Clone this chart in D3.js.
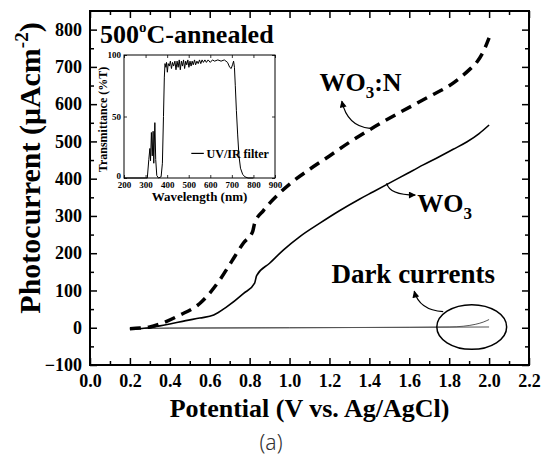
<!DOCTYPE html>
<html>
<head>
<meta charset="utf-8">
<script src="https://cdn.jsdelivr.net/npm/d3@7"></script>
<style>
body { margin: 0; background: #fff; }
svg text { font-family: "Liberation Serif", "Times New Roman", serif; font-weight: bold; fill: #000; }
svg text.caption { font-family: "Noto Sans", sans-serif; font-weight: 300; fill: #333; }
</style>
</head>
<body>
<div id="chart"></div>
<script>
// photocurrent vs potential, [V, uA/cm2]
const wo3N = [[0.20,-3],[0.25,-1],[0.30,2],[0.35,10],[0.45,34],[0.55,65],[0.65,128],[0.71,178],[0.77,228],[0.815,258],[0.825,280],[0.87,315],[0.94,356],[1.02,394],[1.10,425],[1.20,461],[1.29,494],[1.40,531],[1.47,553],[1.55,577],[1.64,603],[1.72,626],[1.79,646],[1.85,669],[1.90,692],[1.94,714],[1.97,740],[2.00,778]];
const wo3 = [[0.20,-3],[0.30,0],[0.35,5],[0.40,10],[0.48,19],[0.55,26],[0.62,34],[0.68,54],[0.77,92],[0.825,120],[0.835,140],[0.90,173],[0.97,209],[1.05,244],[1.15,280],[1.25,314],[1.35,345],[1.42,365],[1.50,388],[1.59,414],[1.67,437],[1.75,459],[1.82,479],[1.89,499],[1.95,521],[2.00,544]];
const darkWo3N = [[0.20,-3],[0.40,-1],[1.00,0],[1.60,1],[1.80,2],[1.87,4],[1.93,9],[1.97,15],[2.00,22]];
const darkWo3 = [[0.20,-3],[0.40,-1],[1.00,0],[1.50,1],[2.00,2]];

// inset: UV/IR filter transmittance [nm, %T]
const filterT = [[200,0],[300,0],[308,0],[315,15],[320,24],[323,14],[327,37],[331,18],[335,38],[338,12],[343,45],[347,15],[352,2],[360,0],[372,1],[378,12],[383,50],[387,82],[390,93],[394,90],[397,94],[401,86],[405,93],[410,91],[415,95],[420,89],[425,94],[430,91],[436,95],[441,88],[446,95],[451,90],[456,96],[461,88],[466,95],[471,91],[476,96],[481,89],[486,95],[491,92],[496,96],[501,90],[506,95],[511,91],[516,95],[521,92],[527,96],[532,92],[538,95],[544,93],[550,96],[556,93],[562,96],[568,94],[575,96],[582,94],[590,96],[600,94],[610,96],[620,95],[635,96],[650,95],[665,96],[680,94],[690,90],[697,89],[703,92],[708,95],[712,90],[716,75],[721,55],[727,35],[733,18],[740,8],[750,3],[760,1],[775,0],[800,0]];

const xTicks = [0.0,0.2,0.4,0.6,0.8,1.0,1.2,1.4,1.6,1.8,2.0,2.2];
const xMinor = d3.range(0.1, 2.2, 0.2);
const yTicks = [-100,0,100,200,300,400,500,600,700,800];
const yMinor = d3.range(-50, 850, 100);
const insetXTicks = [200,300,400,500,600,700,800,900];
const insetYTicks = [0,50,100];

// annotation anchors in data units
const ann = {
  wo3N: { from: [1.403, 535], ctrl: [1.29, 540], to: [1.262, 608] },
  wo3: { from: [1.487, 388], ctrl: [1.50, 356], to: [1.63, 356] },
  dark: { from: [1.77, 43], ctrl: [1.65, 47], to: [1.625, 98] },
  ellipse: { c: [1.913, 2], r: [0.175, 60] }
};

const W = 547, H = 460;
const margin = { top: 11, right: 18, bottom: 95, left: 90 };
const width = W - margin.left - margin.right;
const height = H - margin.top - margin.bottom;

const svg = d3.select('#chart').append('svg')
  .attr('width', W).attr('height', H);

svg.append('defs').append('marker')
  .attr('id', 'arrow')
  .attr('viewBox', '0 0 10 10')
  .attr('refX', 9).attr('refY', 5)
  .attr('markerWidth', 9).attr('markerHeight', 7)
  .attr('markerUnits', 'userSpaceOnUse')
  .attr('orient', 'auto')
  .append('path').attr('d', 'M0,0 L10,5 L0,10 Z').attr('fill', '#000');

const g = svg.append('g').attr('transform', `translate(${margin.left},${margin.top})`);

const x = d3.scaleLinear().domain([0, 2.2]).range([0, width]);
const y = d3.scaleLinear().domain([-100, 850]).range([height, 0]);

function axisStyle(sel) {
  sel.select('.domain').remove();
  sel.selectAll('line').attr('stroke', '#000').attr('stroke-width', 1.5);
  sel.selectAll('text').style('font-size', '18px');
}

// major ticks + labels
g.append('g').attr('transform', `translate(0,${height})`)
  .call(d3.axisBottom(x).tickValues(xTicks).tickSize(-7).tickPadding(9).tickFormat(d3.format('.1f')))
  .call(axisStyle);
g.append('g')
  .call(d3.axisLeft(y).tickValues(yTicks).tickSize(-7).tickPadding(8))
  .call(axisStyle);
g.append('g')
  .call(d3.axisTop(x).tickValues(xTicks).tickSize(-7).tickFormat(''))
  .call(axisStyle);
g.append('g').attr('transform', `translate(${width},0)`)
  .call(d3.axisRight(y).tickValues(yTicks).tickSize(-7).tickFormat(''))
  .call(axisStyle);
// minor ticks
g.append('g').attr('transform', `translate(0,${height})`)
  .call(d3.axisBottom(x).tickValues(xMinor).tickSize(-4).tickFormat('')).call(axisStyle);
g.append('g').call(d3.axisTop(x).tickValues(xMinor).tickSize(-4).tickFormat('')).call(axisStyle);
g.append('g').call(d3.axisLeft(y).tickValues(yMinor).tickSize(-4).tickFormat('')).call(axisStyle);
g.append('g').attr('transform', `translate(${width},0)`)
  .call(d3.axisRight(y).tickValues(yMinor).tickSize(-4).tickFormat('')).call(axisStyle);

g.append('rect').attr('width', width).attr('height', height)
  .attr('fill', 'none').attr('stroke', '#000').attr('stroke-width', 2);

const line = d3.line().x(d => x(d[0])).y(d => y(d[1])).curve(d3.curveMonotoneX);

g.append('path').datum(darkWo3).attr('d', line)
  .attr('fill', 'none').attr('stroke', '#555').attr('stroke-width', 1);
g.append('path').datum(darkWo3N).attr('d', line)
  .attr('fill', 'none').attr('stroke', '#555').attr('stroke-width', 1);
g.append('path').datum(wo3).attr('d', line)
  .attr('fill', 'none').attr('stroke', '#000').attr('stroke-width', 1.6);
g.append('path').datum(wo3N).attr('d', line)
  .attr('fill', 'none').attr('stroke', '#000').attr('stroke-width', 3.5)
  .attr('stroke-dasharray', '11,7');

// annotations
function curveArrow(a) {
  const p = d3.path();
  p.moveTo(x(a.from[0]), y(a.from[1]));
  p.quadraticCurveTo(x(a.ctrl[0]), y(a.ctrl[1]), x(a.to[0]), y(a.to[1]));
  g.append('path').attr('d', p.toString())
    .attr('fill', 'none').attr('stroke', '#000').attr('stroke-width', 1.2)
    .attr('marker-end', 'url(#arrow)');
}
curveArrow(ann.wo3N);
curveArrow(ann.wo3);
curveArrow(ann.dark);

g.append('ellipse')
  .attr('cx', x(ann.ellipse.c[0])).attr('cy', y(ann.ellipse.c[1]))
  .attr('rx', x(ann.ellipse.r[0]) - x(0)).attr('ry', y(0) - y(ann.ellipse.r[1]))
  .attr('fill', 'none').attr('stroke', '#000').attr('stroke-width', 1.5);

// labels
const wn = g.append('text').attr('x', x(1.15)).attr('y', y(635)).style('font-size', '26px');
wn.append('tspan').text('WO');
wn.append('tspan').attr('dy', 7).style('font-size', '17px').text('3');
wn.append('tspan').attr('dy', -7).text(':N');

const wt = g.append('text').attr('x', x(1.64)).attr('y', y(310)).style('font-size', '26px');
wt.append('tspan').text('WO');
wt.append('tspan').attr('dy', 7).style('font-size', '17px').text('3');

g.append('text').attr('x', x(1.62)).attr('y', y(120)).attr('text-anchor', 'middle')
  .style('font-size', '27px').text('Dark currents');

const tt = svg.append('text').attr('x', 100).attr('y', 43).style('font-size', '26px');
tt.append('tspan').text('500');
tt.append('tspan').attr('dy', -11).style('font-size', '15px').text('o');
tt.append('tspan').attr('dy', 11).text('C-annealed');

// axis titles
svg.append('text').attr('x', margin.left + width / 2).attr('y', 417)
  .attr('text-anchor', 'middle').style('font-size', '26px')
  .text('Potential (V vs. Ag/AgCl)');

const yt = svg.append('text')
  .attr('transform', 'translate(40,168) rotate(-90)')
  .attr('text-anchor', 'middle').style('font-size', '30px');
yt.append('tspan').text('Photocurrent (\u03bcAcm');
yt.append('tspan').attr('dy', -12).style('font-size', '19px').text('-2');
yt.append('tspan').attr('dy', 12).text(')');

svg.append('text').attr('class', 'caption').attr('x', 271).attr('y', 450)
  .attr('text-anchor', 'middle').style('font-size', '21px').text('(a)');

// inset
const ins = { left: 124, top: 55, w: 151, h: 123 };
const ig = svg.append('g').attr('transform', `translate(${ins.left},${ins.top})`);
const ix = d3.scaleLinear().domain([200, 900]).range([0, ins.w]);
const iy = d3.scaleLinear().domain([0, 100]).range([ins.h, 0]);

function insetStyle(sel) {
  sel.select('.domain').remove();
  sel.selectAll('line').attr('stroke', '#000').attr('stroke-width', 0.8);
  sel.selectAll('text').style('font-size', '9px');
}
ig.append('g').attr('transform', `translate(0,${ins.h})`)
  .call(d3.axisBottom(ix).tickValues(insetXTicks).tickSize(-3).tickPadding(4)).call(insetStyle);
ig.append('g')
  .call(d3.axisLeft(iy).tickValues(insetYTicks).tickSize(-3).tickPadding(3)).call(insetStyle)
  .selectAll('text').attr('dy', d => d === 0 ? '0em' : '0.3em');
ig.append('g')
  .call(d3.axisTop(ix).tickValues(insetXTicks).tickSize(-3).tickFormat('')).call(insetStyle);
ig.append('g').attr('transform', `translate(${ins.w},0)`)
  .call(d3.axisRight(iy).tickValues(insetYTicks).tickSize(-3).tickFormat('')).call(insetStyle);
ig.append('rect').attr('width', ins.w).attr('height', ins.h)
  .attr('fill', 'none').attr('stroke', '#000').attr('stroke-width', 1);

ig.append('path').datum(filterT)
  .attr('d', d3.line().x(d => ix(d[0])).y(d => iy(d[1])))
  .attr('fill', 'none').attr('stroke', '#000').attr('stroke-width', 1);

ig.append('line').attr('x1', ix(512)).attr('x2', ix(570)).attr('y1', iy(20)).attr('y2', iy(20))
  .attr('stroke', '#000').attr('stroke-width', 1.2);
ig.append('text').attr('x', ix(583)).attr('y', iy(20)).attr('dy', '0.35em')
  .style('font-size', '12px').text('UV/IR filter');

ig.append('text').attr('x', ins.w / 2).attr('y', ins.h + 23)
  .attr('text-anchor', 'middle').style('font-size', '13px').text('Wavelength (nm)');
ig.append('text').attr('transform', `translate(-17,${ins.h / 2 + 3}) rotate(-90)`)
  .attr('text-anchor', 'middle').style('font-size', '12px').text('Transmittance (%T)');
</script>
</body>
</html>
